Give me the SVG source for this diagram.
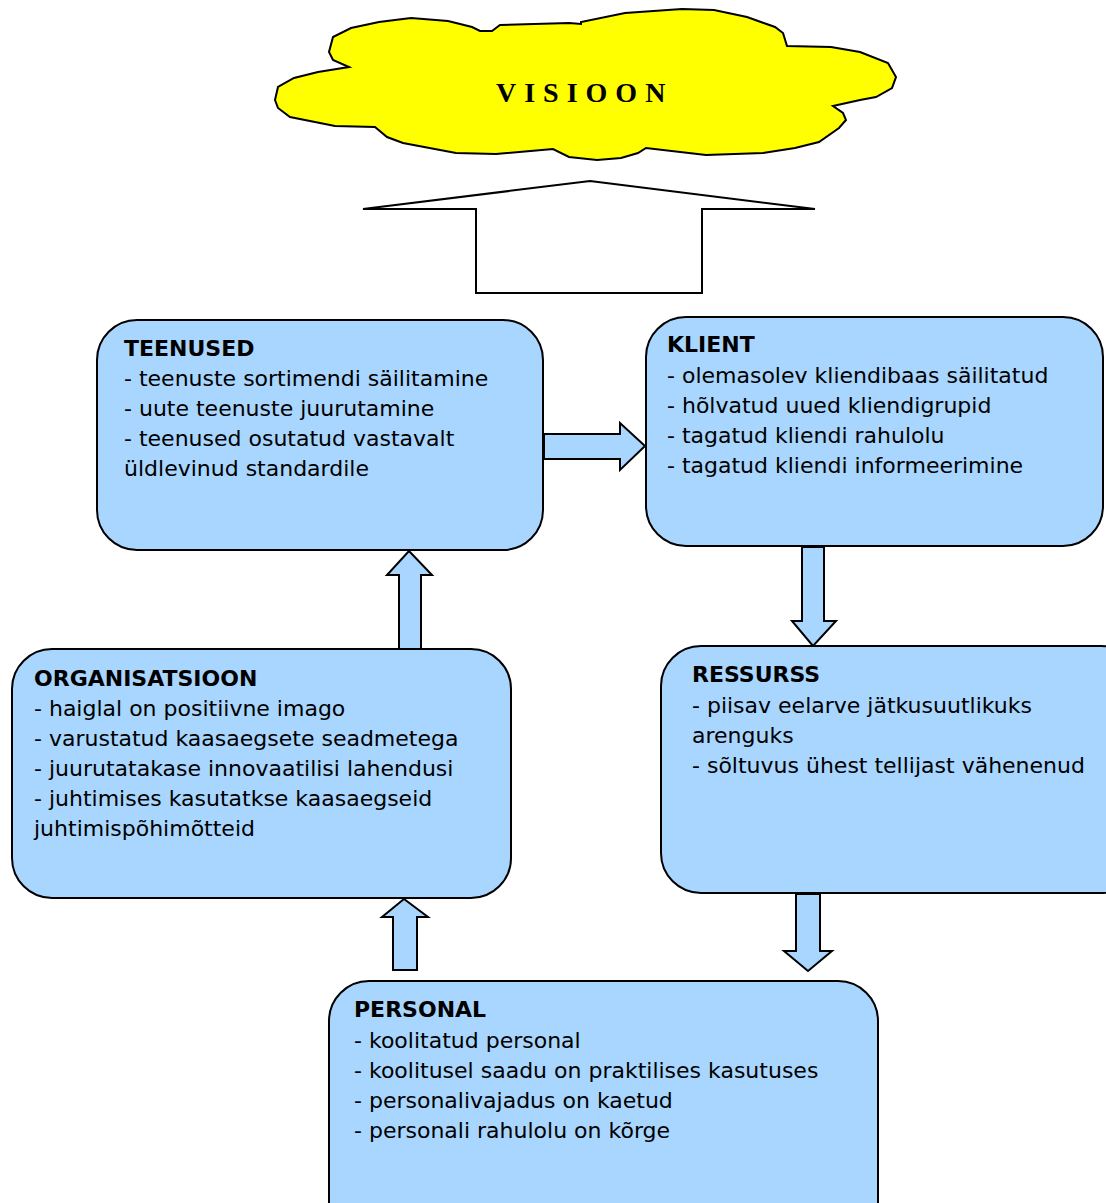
<svg xmlns="http://www.w3.org/2000/svg" width="1106" height="1203" viewBox="0 0 1106 1203">
<style>
.box{fill:#A8D6FF;stroke:#000;stroke-width:2}
.arr{fill:#A8D6FF;stroke:#000;stroke-width:2;stroke-linejoin:miter}
.t{font-family:"DejaVu Sans",Verdana,sans-serif;font-size:22px;fill:#000}
.h{font-weight:bold}
</style>
<rect width="1106" height="1203" fill="#fff"/>
<g id="visioon">
<path d="M480,31 L492,31 L500,25 L569,23 L581,24 L581,22 L625,13 L682,9 L714,10 L747,17 L775,27 L783,33 L787,46 L831,47 L860,52 L888,63 L896,77 L892,88 L876,97 L860,100 L833,106 L843,113 L846,120 L839,128 L819,142 L795,148 L763,153 L706,155 L646,148 L638,153 L621,158 L597,160 L569,157 L553,149 L496,154 L456,153 L403,143 L387,137 L375,127 L335,126 L290,117 L278,108 L275,100 L278,87 L294,78 L318,72 L349,67 L333,60 L329,52 L333,37 L351,28 L379,22 L411,18 L448,21 L472,27 Z" fill="#FFFF00" stroke="#000" stroke-width="2"/>
<text x="496" y="102" font-family="Liberation Serif,serif" font-weight="bold" font-size="28" letter-spacing="8">VISIOON</text>
</g>
<g id="connectors">
<path d="M590,181 L815,209 L702,209 L702,293 L476,293 L476,209 L363,209 Z" fill="#fff" stroke="#000" stroke-width="2"/>
<path class="arr" d="M544,434 L620,434 L620,423 L645,446 L620,470 L620,459 L544,459 Z"/>
<path class="arr" d="M399,649 L399,575 L387,575 L409,551 L432,575 L421,575 L421,649 Z"/>
<path class="arr" d="M802,547 L824,547 L824,621 L836,621 L813,646 L792,621 L802,621 Z"/>
<path class="arr" d="M393,970 L393,917 L382,917 L404,899 L428,917 L417,917 L417,970 Z"/>
<path class="arr" d="M796,894 L820,894 L820,951 L832,951 L808,971 L784,951 L796,951 Z"/>
</g>
<g id="teenused">
<rect class="box" x="97" y="320" width="446" height="230" rx="40"/>
<text class="t h" x="124" y="356">TEENUSED</text>
<text class="t" x="124" y="386">- teenuste sortimendi säilitamine</text>
<text class="t" x="124" y="416">- uute teenuste juurutamine</text>
<text class="t" x="124" y="446">- teenused osutatud vastavalt</text>
<text class="t" x="124" y="476">üldlevinud standardile</text>
</g>
<g id="klient">
<rect class="box" x="646" y="317" width="457" height="229" rx="40"/>
<text class="t h" x="667" y="352">KLIENT</text>
<text class="t" x="667" y="383">- olemasolev kliendibaas säilitatud</text>
<text class="t" x="667" y="413">- hõlvatud uued kliendigrupid</text>
<text class="t" x="667" y="443">- tagatud kliendi rahulolu</text>
<text class="t" x="667" y="473">- tagatud kliendi informeerimine</text>
</g>
<g id="organisatsioon">
<rect class="box" x="12" y="649" width="499" height="249" rx="40"/>
<text class="t h" x="34" y="686">ORGANISATSIOON</text>
<text class="t" x="34" y="716">- haiglal on positiivne imago</text>
<text class="t" x="34" y="746">- varustatud kaasaegsete seadmetega</text>
<text class="t" x="34" y="776">- juurutatakase innovaatilisi lahendusi</text>
<text class="t" x="34" y="806">- juhtimises kasutatkse kaasaegseid</text>
<text class="t" x="34" y="836">juhtimispõhimõtteid</text>
</g>
<g id="ressurss">
<rect class="box" x="661" y="646" width="480" height="247" rx="40"/>
<text class="t h" x="692" y="682">RESSURSS</text>
<text class="t" x="692" y="713">- piisav eelarve jätkusuutlikuks</text>
<text class="t" x="692" y="743">arenguks</text>
<text class="t" x="692" y="773">- sõltuvus ühest tellijast vähenenud</text>
</g>
<g id="personal">
<rect class="box" x="329" y="981" width="549" height="262" rx="40"/>
<text class="t h" x="354" y="1017">PERSONAL</text>
<text class="t" x="354" y="1048">- koolitatud personal</text>
<text class="t" x="354" y="1078">- koolitusel saadu on praktilises kasutuses</text>
<text class="t" x="354" y="1108">- personalivajadus on kaetud</text>
<text class="t" x="354" y="1138">- personali rahulolu on kõrge</text>
</g>
</svg>
